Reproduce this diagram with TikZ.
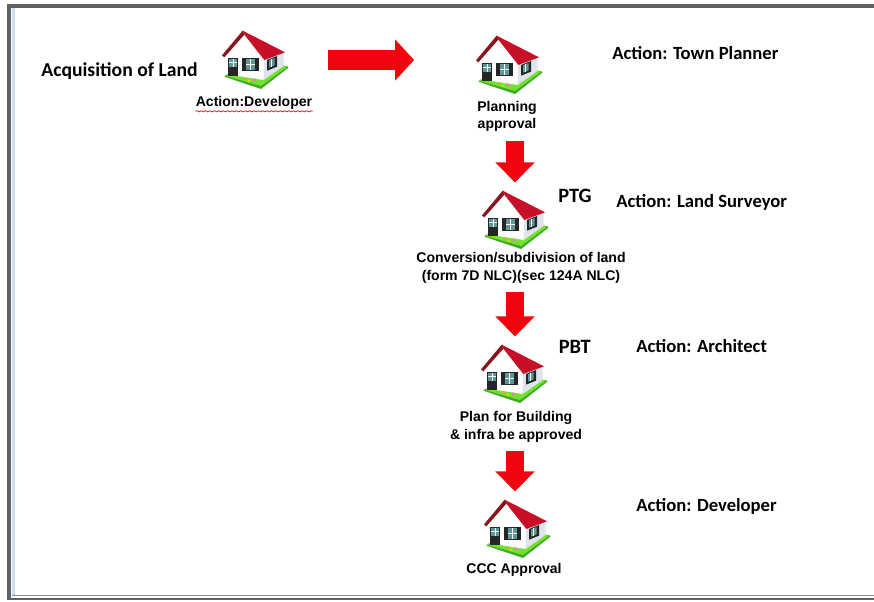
\documentclass[tikz,border=0pt]{standalone}
\usepackage{fontspec}
\setmainfont{Liberation Sans}
\newfontfamily\actionfont{Carlito}
\usetikzlibrary{positioning,arrows.meta,decorations.pathmorphing}

\definecolor{roofred}{RGB}{200,15,40}
\definecolor{roofdark}{RGB}{135,20,30}
\definecolor{arrowred}{RGB}{240,5,15}
\definecolor{grassgreen}{RGB}{115,225,50}
\definecolor{grassdark}{RGB}{60,170,35}
\definecolor{wallgrey}{RGB}{222,228,235}
\definecolor{glass}{RGB}{95,150,150}
\definecolor{frameblue}{RGB}{205,220,235}

\tikzset{
  homebox/.style={minimum width=1.3cm, minimum height=1.15cm, inner sep=0},
  caption/.style={font=\bfseries\fontsize{8}{10}\selectfont, align=center, inner sep=0},
  action/.style={font=\actionfont\bfseries\fontsize{10.6}{13}\selectfont, anchor=west, inner sep=0},
  redarrow/.style={draw=arrowred, line width=0.37cm, -{Triangle[width=0.76cm,length=0.4cm]}, shorten <=5pt, shorten >=4.8pt},
  home/.pic={
    \begin{scope}[x=0.00667cm, y=-0.00667cm, shift={(-132,-120)}]
    \fill[grassdark] (40,170) -- (150,207) -- (232,143) -- (228,138) -- (60,150) -- cycle;
    \fill[grassgreen] (45,168) -- (65,150) -- (200,120) -- (226,142) -- (150,198) -- cycle;
    \fill[white] (47,105) -- (95,45) -- (160,118) -- (158,180) -- (47,163) -- cycle;
    \fill[wallgrey] (160,118) -- (218,97) -- (218,138) -- (158,180) -- cycle;
    \fill[roofred] (95,32) -- (222,97) -- (160,120) -- (100,44) -- cycle;
    \fill[roofdark] (95,32) -- (100,44) -- (40,112) -- (33,106) -- cycle;
    % door and windows
    \fill[black!85] (52,113) rectangle (80,168);
    \fill[glass] (55,116) rectangle (77,140);
    \draw[white, line width=0.3pt] (66,116) -- (66,140) (55,128) -- (77,128);
    \fill[black!85] (92,115) rectangle (145,153);
    \fill[glass] (105,118) rectangle (133,150);
    \draw[white, line width=0.3pt] (119,118) -- (119,150) (105,134) -- (133,134);
    \fill[black!85] (168,120) -- (198,108) -- (198,140) -- (168,152) -- cycle;
    \fill[glass] (174,121) -- (191,114) -- (191,136) -- (174,143) -- cycle;
    \draw[white, line width=0.3pt] (182,118) -- (182,140);
    % flowers
    \fill[orange!80] (102,178) circle (4);
    \fill[yellow!80!orange] (113,182) circle (3.5);
    \fill[magenta!55] (130,180) circle (5);
    \end{scope}
  }
}

\begin{document}
\begin{tikzpicture}[x=0.02cm, y=-0.02cm]
\useasboundingbox (0,0) rectangle (874,601);

% frame
\fill[black!62] (7,4) rectangle (874,8);
\fill[black!62] (7,4) rectangle (11,600);
\fill[frameblue] (12,8) rectangle (15,595);
\fill[black!45] (12,595) rectangle (874,596);
\fill[black!62] (11,598) rectangle (874,600);

% houses
\node[homebox] (home1) at (255,60) {};
\node[homebox] (home2) at (509,65) {};
\node[homebox] (home3) at (515,220) {};
\node[homebox] (home4) at (514,374) {};
\node[homebox] (home5) at (517,529) {};
\pic at (home1) {home};
\pic at (home2) {home};
\pic at (home3) {home};
\pic at (home4) {home};
\pic at (home5) {home};

% captions
\node[caption] (developer) at (254,103) {Action:Developer};
\node[caption] (planning) at (507,116.5) {Planning\\approval};
\node[caption] (conversion) at (521,268) {Conversion/subdivision of land\\(form 7D NLC)(sec 124A NLC)};
\node[caption] (building) at (516,427) {Plan for Building\\\& infra be approved};
\node[caption] (ccc) at (514,570) {CCC Approval};

% left and right labels
\node[action, font=\actionfont\bfseries\fontsize{11.2}{13}\selectfont] (land) at (41,71) {Acquisition of Land};
\node[action] (planner) at (612,53) {Action: Town Planner};
\node[action] (surveyor) at (616,202) {Action: Land Surveyor};
\node[action] (architect) at (636,346) {Action: Architect};
\node[action] (last) at (636,506) {Action: Developer};
\node[action, font=\actionfont\bfseries\fontsize{11.6}{13}\selectfont] (ptg) at (558,196) {PTG};
\node[action, font=\actionfont\bfseries\fontsize{11.6}{13}\selectfont] (pbt) at (558.5,347) {PBT};

\draw[red, line width=0.4pt, decorate, decoration={snake, amplitude=0.35pt, segment length=2.5pt}]
  ([yshift=-0.8pt]developer.south west) -- ([yshift=-0.8pt]developer.south east);

% arrows
\draw[redarrow, line width=0.4cm, -{Triangle[width=0.8cm,length=0.38cm]}, shorten <=41.5pt, shorten >=54pt] (home1.center) -- (home1.center -| home2.center);
\draw[redarrow] (home3.north |- planning.south) -- (home3.north);
\draw[redarrow] (home3.north |- conversion.south) -- (home3.north |- home4.north);
\draw[redarrow] (home3.north |- building.south) -- (home3.north |- home5.north);
\end{tikzpicture}
\end{document}
